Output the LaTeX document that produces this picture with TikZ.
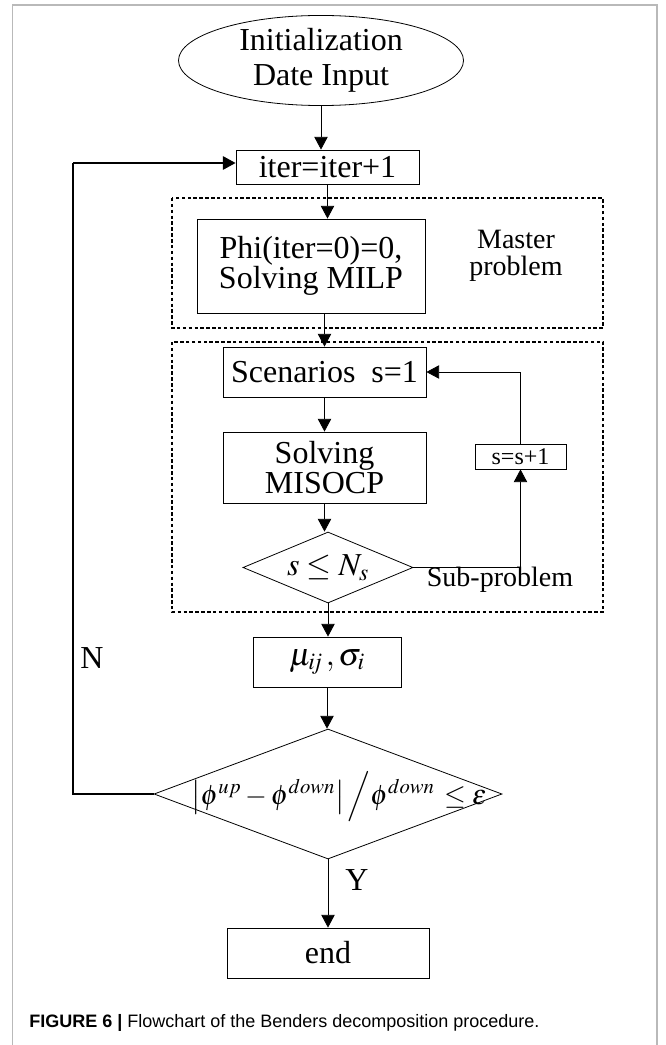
\documentclass[tikz,border=0pt]{standalone}
\usepackage{mathptmx}
\usepackage{fontspec}
\setmainfont{Liberation Serif}
\newfontfamily\capfont{Liberation Sans}
\usetikzlibrary{shapes.geometric,arrows.meta}

\tikzset{
  box/.style = {draw, line width = 0.6pt, inner sep = 0pt, align = center,
    font = \fontsize{24}{23}\selectfont},
  group/.style = {line width = 1.1pt, dash pattern = on 2.6pt off 1.8pt},
  flow/.style = {line width = 0.6pt, -{Triangle[length = 9.5pt, width = 10pt]}},
  label/.style = {inner sep = 0pt, align = center}
}

\begin{document}
\begin{tikzpicture}[x = 0.75pt, y = -0.75pt]
    \useasboundingbox (0, 0) rectangle (665, 1045);
    \draw[gray!55, line width = 1pt] (12.7, 1045) -- (12.7, 5) -- (657, 5) -- (657, 1045);

    {
      \draw[group] (172, 198) rectangle (603, 328);
      \draw[group] (172, 342) rectangle (603, 612);
    }

    \node[box, ellipse, minimum width = 213.75pt, minimum height = 63.75pt,
      font = \fontsize{24}{26}\selectfont] (init) at (321, 60.5) {Initialization\\Date Input};
    \node[box, minimum width = 137.25pt, minimum height = 25.5pt] (iter) at (327.5, 167) {iter=iter+1};
    \node[box, minimum width = 171pt, minimum height = 70.5pt] (phi) at (311, 266) {Phi(iter=0)=0,\\Solving MILP};
    \node[label, font = \fontsize{21}{20}\selectfont] (master) at (516, 256) {Master\\problem};

    \node[box, minimum width = 152.25pt, minimum height = 37.5pt] (scen) at (324.5, 372) {Scenarios\ \ s=1};
    \node[box, minimum width = 152.25pt, minimum height = 53.25pt] (solv) at (324.5, 467.5) {Solving\\MISOCP};
    \node[box, diamond, minimum width = 127.5pt, minimum height = 53.25pt, aspect = 2.4] (dec) at (328, 567.5) {$s \le N_s$};
    \node[box, minimum width = 68.25pt, minimum height = 18.75pt, font = \fontsize{18}{18}\selectfont] (splus) at (520.5, 456.5) {s=s+1};
    \node[label, font = \fontsize{21}{21}\selectfont] (sub) at (500, 580) {Sub-problem};

    \node[box, minimum width = 111pt, minimum height = 37.5pt] (mu) at (327, 662) {$\mu_{\mathit{ij}}\,,\sigma_i$};
    \node[box, diamond, minimum width = 261pt, minimum height = 97.5pt] (check) at (328, 794) {};
    \node[label, font = \fontsize{21}{21}\selectfont] (crit) at (339, 797)
      {$\left|\phi^{up} - \phi^{down}\right|\Big/\phi^{down}\,\le\varepsilon$};
    \node[box, minimum width = 151.5pt, minimum height = 37.5pt] (end) at (328, 953) {end};

    \node[label, font = \fontsize{24}{24}\selectfont] (no) at (92, 658) {N};
    \node[label, font = \fontsize{24}{24}\selectfont] (yes) at (357, 880) {Y};
    \coordinate (fb) at (73, 163);

    \draw[flow] (init.south) -- (init.south |- iter.north);
    \draw[flow] (iter.south) -- (iter.south |- phi.north);
    \draw[flow] (phi.south -| scen.north) -- (scen.north);
    \draw[flow] (scen) -- (solv);
    \draw[flow] (solv.south) -- (solv.south |- dec.north);
    \draw[flow] (dec.south) -- (dec.south |- mu.north);
    \draw[flow] (mu.south) -- (mu.south |- check.north);
    \draw[flow] (check) -- (end);
    \draw[flow] (dec.east) -| (splus.south);
    \draw[flow] (splus.north) |- (scen.east);
    \draw[line width = 0.8pt] (check.west) -| (fb);
    \draw[flow, line width = 1.4pt] (fb) -- (fb -| iter.west);

    \node[anchor = west, inner sep = 0pt, font = \capfont\fontsize{13.5}{14}\selectfont] (caption) at (29, 1023)
      {\textbf{FIGURE 6 |} Flowchart of the Benders decomposition procedure.};
\end{tikzpicture}
\end{document}
